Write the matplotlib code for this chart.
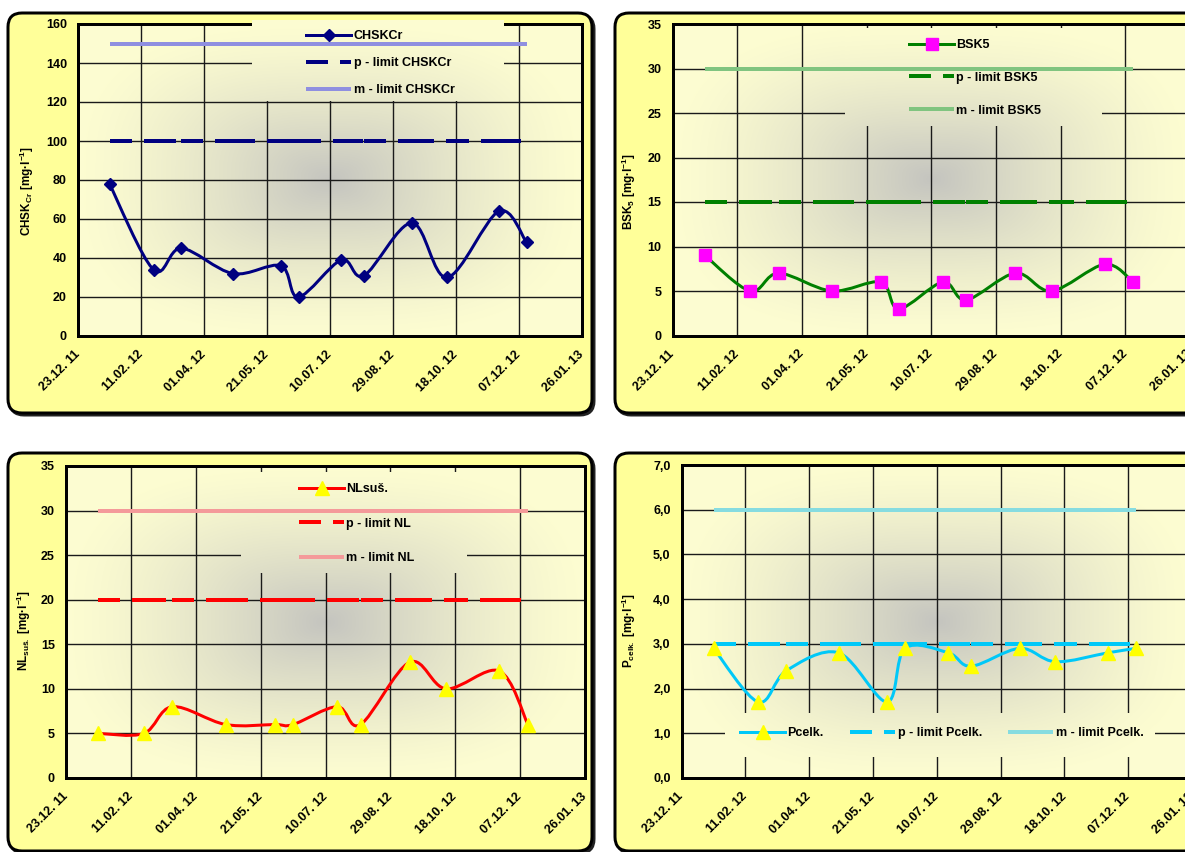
import numpy as np
import pandas as pd
import matplotlib
matplotlib.use('Agg')
import matplotlib.pyplot as plt
import matplotlib.dates as mdates
from matplotlib.path import Path
from matplotlib.patches import PathPatch, FancyBboxPatch, Rectangle
from matplotlib.lines import Line2D

plt.rcParams['font.family'] = 'Liberation Sans'
plt.rcParams['font.weight'] = 'bold'
plt.rcParams['mathtext.fontset'] = 'custom'
plt.rcParams['mathtext.rm'] = 'Liberation Sans:bold'
plt.rcParams['mathtext.bf'] = 'Liberation Sans:bold'
plt.rcParams['mathtext.it'] = 'Liberation Sans:bold'
plt.rcParams['lines.scale_dashes'] = False

# sampling dates and measured values
dates = pd.to_datetime(['2012-01-17', '2012-02-21', '2012-03-14', '2012-04-24',
                        '2012-06-01', '2012-06-15', '2012-07-19', '2012-08-06',
                        '2012-09-13', '2012-10-11', '2012-11-21', '2012-12-13'])
chsk = [78, 34, 45, 32, 36, 20, 39, 31, 58, 30, 64, 48]
bsk5 = [9, 5, 7, 5, 6, 3, 6, 4, 7, 5, 8, 6]
nl = [5, 5, 8, 6, 6, 6, 8, 6, 13, 10, 12, 6]
pcelk = [2.9, 1.7, 2.4, 2.8, 1.7, 2.9, 2.8, 2.5, 2.9, 2.6, 2.8, 2.9]

# p / m limits
chsk_lim = (100, 150)
bsk5_lim = (15, 30)
nl_lim = (20, 30)
pcelk_lim = (3.0, 6.0)

tick_dates = pd.date_range('2011-12-23', periods=9, freq='50D')
tick_labels = [d.strftime('%d.%m. %y') for d in tick_dates]

W, H = 1185, 852
PX = 0.72  # points per pixel at 100 dpi

fig = plt.figure(figsize=(W / 100, H / 100), dpi=100)
fig.patch.set_facecolor('white')

bg = fig.add_axes([0, 0, 1, 1])
bg.set_xlim(0, W)
bg.set_ylim(H, 0)
bg.axis('off')


def panel(x0, y0, x1, y1):
    sh = FancyBboxPatch((x0 + 2, y0 + 2), x1 - x0, y1 - y0,
                        boxstyle='round,pad=0,rounding_size=14',
                        fc='#222222', ec='#222222', lw=3 * PX)
    bg.add_patch(sh)
    box = FancyBboxPatch((x0, y0), x1 - x0, y1 - y0,
                         boxstyle='round,pad=0,rounding_size=14',
                         fc='#FFFF99', ec='black', lw=3 * PX)
    bg.add_patch(box)


def px_axes(x0, y0, x1, y1):
    return fig.add_axes([x0 / W, 1 - y1 / H, (x1 - x0) / W, (y1 - y0) / H])


def gradient_img():
    # grey centre fading out to pale yellow edges
    ext = 0.05
    u = np.linspace(-ext, 1 + ext, 400)
    U, V = np.meshgrid(u, u)
    du = np.abs(2 * U - 1)
    dv = np.abs(2 * V - 1)
    t = np.clip((du ** 3 + dv ** 3) ** (1 / 3), 0, 1)
    w = (1 - t) ** 1.35
    center = np.array([0.77, 0.77, 0.75])
    edge = np.array([0.99, 0.99, 0.82])
    return edge + (center - edge) * w[..., None], ext


def smooth_path(x, y):
    P = np.column_stack([x, y]).astype(float)
    n = len(P)
    verts = [P[0]]
    for i in range(n - 1):
        p0 = P[i - 1] if i > 0 else P[i]
        p3 = P[i + 2] if i + 2 < n else P[i + 1]
        c1 = P[i] + (P[i + 1] - p0) / 6
        c2 = P[i + 1] - (p3 - P[i]) / 6
        verts += [c1, c2, P[i + 1]]
    codes = [Path.MOVETO] + [Path.CURVE4] * (3 * (n - 1))
    return Path(verts, codes)


def draw_chart(rect, legend_box, values, lims, ymax, ystep, color, marker, msize, mcolor,
               mlim_color, ylabel, ylabel_xy, names, legend_xy, spacing, ncol=1, comma=False):
    ax = px_axes(*rect)
    img, ext = gradient_img()
    ax.imshow(img, extent=(-ext, 1 + ext, -ext, 1 + ext), transform=ax.transAxes,
              origin='lower', aspect='auto', interpolation='bilinear', zorder=0)
    # legend area hides the grid behind it
    cover = ax.imshow(img, extent=(-ext, 1 + ext, -ext, 1 + ext), transform=ax.transAxes,
                      origin='lower', aspect='auto', interpolation='bilinear', zorder=2.6)
    bx0, by0, bx1, by1 = legend_box
    cover.set_clip_path(Rectangle((bx0 / W, 1 - by1 / H), (bx1 - bx0) / W, (by1 - by0) / H,
                                  transform=fig.transFigure))

    xn = mdates.date2num(dates)
    # p-limit: dashes restart at every sample date
    for i in range(len(xn) - 1):
        ax.plot(xn[i:i + 2], [lims[0], lims[0]], color=color, lw=4 * PX,
                dashes=(22 * PX, 12 * PX), dash_capstyle='butt', zorder=3.5)
    ax.plot([xn[0], xn[-1]], [lims[1], lims[1]], color=mlim_color, lw=4 * PX,
            solid_capstyle='butt', zorder=3.6)

    ax.add_patch(PathPatch(smooth_path(xn, values), fill=False, ec=color, lw=3 * PX,
                           zorder=4, capstyle='round'))
    ax.plot(xn, values, ls='none', marker=marker, ms=msize, mfc=mcolor, mec=mcolor, zorder=6)

    ax.set_xlim(mdates.date2num(tick_dates[0]), mdates.date2num(tick_dates[-1]))
    ax.set_ylim(0, ymax)
    ax.set_xticks(mdates.date2num(tick_dates))
    ax.set_xticklabels(tick_labels, rotation=45, ha='right', va='center',
                       rotation_mode='anchor', fontsize=9, fontweight='bold')
    yt = np.arange(0, ymax + ystep / 2, ystep)
    ax.set_yticks(yt)
    if comma:
        ax.set_yticklabels([f'{v:.1f}'.replace('.', ',') for v in yt], fontsize=9, fontweight='bold')
    else:
        ax.set_yticklabels([f'{v:g}' for v in yt], fontsize=9, fontweight='bold')
    ax.tick_params(axis='both', length=0)
    ax.tick_params(axis='y', pad=8)
    ax.tick_params(axis='x', pad=12)
    ax.grid(True, color='#1a1a1a', lw=1.0)
    for s in ax.spines.values():
        s.set_linewidth(3 * PX)
        s.set_color('black')

    fig.text(ylabel_xy[0] / W, 1 - ylabel_xy[1] / H, ylabel, rotation=90, ha='center',
             va='center', fontsize=8.5, fontweight='bold')

    handles = [
        Line2D([], [], color=color, lw=3 * PX, marker=marker, ms=msize, mfc=mcolor, mec=mcolor),
        Line2D([], [], color=color, lw=4 * PX, dashes=(22 * PX, 12 * PX), dash_capstyle='butt'),
        Line2D([], [], color=mlim_color, lw=4 * PX, solid_capstyle='butt'),
    ]
    loc = 'upper left' if ncol == 1 else 'center left'
    leg = ax.legend(handles, names, loc=loc, bbox_to_anchor=(legend_xy[0] / W, 1 - legend_xy[1] / H),
                    bbox_transform=fig.transFigure, frameon=False, borderpad=0,
                    handlelength=3.6, handletextpad=0.2, labelspacing=spacing, numpoints=1,
                    ncol=ncol, columnspacing=2.1, borderaxespad=0,
                    prop={'size': 9, 'weight': 'bold'})
    leg.set_zorder(8)
    return ax


panel(8, 13, 592, 413)
panel(615, 13, 1199, 413)
panel(8, 453, 592, 851)
panel(615, 453, 1199, 851)

draw_chart((78, 24, 582, 336), (252, 20, 504, 101), chsk, chsk_lim, 160, 20,
           '#000080', 'D', 6.5, '#000080', '#8F8FE0',
           r'CHSK$_{\mathbf{Cr}}$ [mg·l$^{\mathbf{-1}}$]', (27, 191),
           ['CHSKCr', 'p - limit CHSKCr', 'm - limit CHSKCr'], (306, 30), 1.2)

draw_chart((672.5, 24, 1190, 335.5), (845, 28, 1101, 126), bsk5, bsk5_lim, 35, 5,
           '#008000', 's', 8.5, '#FF00FF', '#80C480',
           r'BSK$_{\mathbf{5}}$ [mg·l$^{\mathbf{-1}}$]', (629, 192),
           ['BSK5', 'p - limit BSK5', 'm - limit BSK5'], (909, 39), 1.66)

draw_chart((66, 466, 585, 778), (241, 472, 467, 573), nl, nl_lim, 35, 5,
           '#FF0000', '^', 10, '#FFFF00', '#F49A9A',
           r'NL$_{\mathbf{suš.}}$ [mg·l$^{\mathbf{-1}}$]', (24, 630),
           ['NLsuš.', 'p - limit NL', 'm - limit NL'], (299, 483), 1.8)

draw_chart((681.7, 465, 1192, 778), (725, 713, 1155, 757), pcelk, pcelk_lim, 7.0, 1.0,
           '#00C8F8', '^', 10, '#FFFF00', '#86DCE0',
           r'P$_{\mathbf{celk.}}$ [mg·l$^{\mathbf{-1}}$]', (629, 630),
           ['Pcelk.', 'p - limit Pcelk.', 'm - limit Pcelk.'], (740, 733), 1.0,
           ncol=3, comma=True)

fig.savefig('out.png', dpi=100)
